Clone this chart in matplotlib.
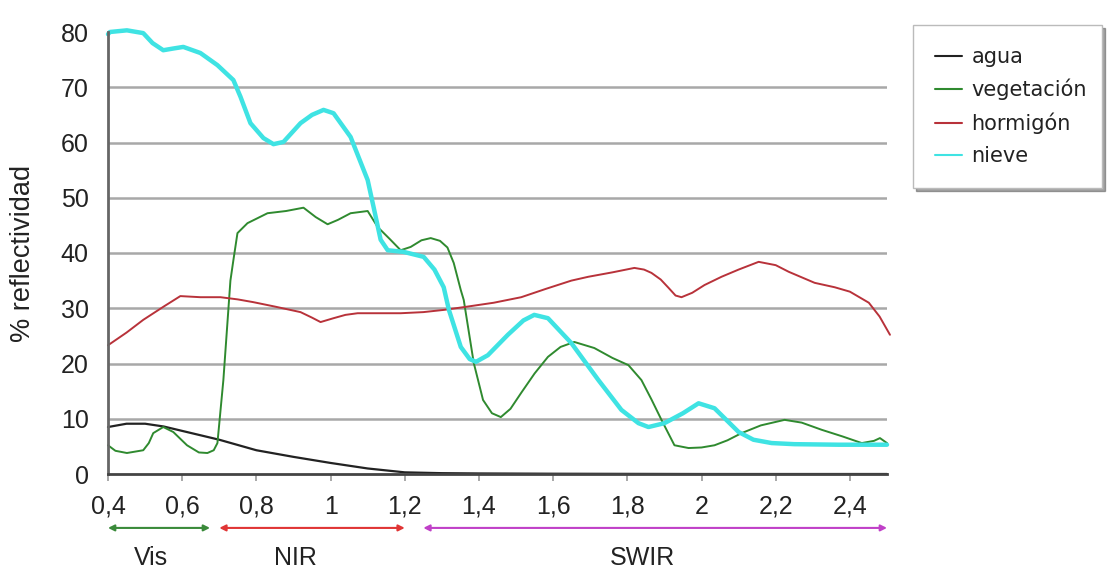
import matplotlib
matplotlib.use('Agg')
import matplotlib.pyplot as plt

plt.rcParams['font.family'] = ['Liberation Sans', 'DejaVu Sans']

# curves (wavelength in um, reflectance in %)
agua_x = [0.4, 0.45, 0.5, 0.55, 0.6, 0.7, 0.8, 0.9, 1.0, 1.1, 1.2, 1.3, 1.4, 1.6, 2.0, 2.5]
agua_y = [8.5, 9.1, 9.1, 8.6, 7.8, 6.2, 4.3, 3.1, 2.0, 1.0, 0.3, 0.15, 0.1, 0.05, 0.0, 0.0]

veg_x = [0.4, 0.42, 0.451, 0.495, 0.51, 0.522, 0.549, 0.576, 0.613, 0.645, 0.668, 0.685, 0.695,
         0.711, 0.73, 0.738, 0.749, 0.776, 0.83, 0.88, 0.927, 0.96, 0.992, 1.02, 1.054, 1.1,
         1.127, 1.16, 1.189, 1.216, 1.245, 1.27, 1.295, 1.315, 1.332, 1.351, 1.359, 1.386,
         1.411, 1.435, 1.459, 1.485, 1.514, 1.55, 1.586, 1.62, 1.657, 1.711, 1.76, 1.803,
         1.838, 1.865, 1.892, 1.927, 1.965, 2.0, 2.035, 2.07, 2.108, 2.16, 2.224, 2.27, 2.324,
         2.38, 2.432, 2.465, 2.481, 2.5]
veg_y = [5.2, 4.2, 3.8, 4.3, 5.6, 7.4, 8.5, 7.6, 5.2, 3.9, 3.8, 4.3, 5.6,
         17.0, 35.0, 38.7, 43.6, 45.4, 47.2, 47.6, 48.2, 46.5, 45.2, 46.0, 47.2, 47.6,
         44.7, 42.5, 40.5, 41.1, 42.3, 42.7, 42.2, 41.0, 38.2, 33.3, 31.5, 20.1,
         13.4, 11.0, 10.3, 11.8, 14.7, 18.2, 21.2, 23.0, 23.9, 22.8, 21.0, 19.7,
         17.0, 13.5, 9.8, 5.2, 4.7, 4.8, 5.2, 6.1, 7.4, 8.8, 9.8, 9.3, 8.0,
         6.8, 5.6, 6.0, 6.5, 5.6]

horm_x = [0.4, 0.45, 0.495, 0.55, 0.595, 0.649, 0.703, 0.75, 0.792, 0.85, 0.919, 0.95, 0.973,
          1.008, 1.04, 1.073, 1.13, 1.189, 1.25, 1.305, 1.359, 1.44, 1.514, 1.58, 1.649,
          1.695, 1.76, 1.819, 1.845, 1.865, 1.89, 1.911, 1.93, 1.946, 1.975, 2.008, 2.054,
          2.1, 2.154, 2.2, 2.235, 2.305, 2.359, 2.4, 2.451, 2.48, 2.508]
horm_y = [23.3, 25.6, 27.9, 30.3, 32.2, 32.0, 32.0, 31.6, 31.1, 30.3, 29.3, 28.3, 27.5,
          28.2, 28.8, 29.1, 29.1, 29.1, 29.3, 29.7, 30.2, 31.0, 32.0, 33.5, 35.0,
          35.7, 36.5, 37.3, 37.0, 36.4, 35.2, 33.7, 32.3, 32.0, 32.8, 34.2, 35.7,
          37.0, 38.4, 37.8, 36.6, 34.6, 33.8, 33.0, 31.0, 28.5, 25.2]

nieve_x = [0.4, 0.405, 0.451, 0.495, 0.52, 0.549, 0.575, 0.603, 0.649, 0.695, 0.738, 0.757,
           0.784, 0.819, 0.846, 0.873, 0.919, 0.95, 0.981, 1.008, 1.054, 1.1, 1.116, 1.135,
           1.154, 1.197, 1.251, 1.28, 1.305, 1.319, 1.351, 1.375, 1.392, 1.424, 1.478, 1.52,
           1.549, 1.586, 1.649, 1.722, 1.784, 1.83, 1.857, 1.9, 1.95, 1.992, 2.035, 2.1, 2.14,
           2.189, 2.25, 2.37, 2.5]
nieve_y = [79.6, 80.0, 80.3, 79.8, 78.0, 76.7, 77.0, 77.3, 76.2, 74.0, 71.3, 68.3,
           63.5, 60.8, 59.7, 60.1, 63.5, 65.0, 65.9, 65.3, 61.0, 53.2, 48.3, 42.4,
           40.5, 40.2, 39.3, 37.0, 33.8, 29.7, 23.0, 20.8, 20.3, 21.5, 25.2, 27.8,
           28.8, 28.2, 23.7, 17.0, 11.6, 9.2, 8.5, 9.2, 11.0, 12.8, 11.9, 7.6, 6.2,
           5.6, 5.4, 5.3, 5.3]

series = [
    ('agua', agua_x, agua_y, '#222222', 1.6),
    ('vegetación', veg_x, veg_y, '#2f8a2f', 1.4),
    ('hormigón', horm_x, horm_y, '#b8323a', 1.4),
    ('nieve', nieve_x, nieve_y, '#3fe3e3', 3.2),
]

x_ticks = [0.4, 0.6, 0.8, 1.0, 1.2, 1.4, 1.6, 1.8, 2.0, 2.2, 2.4]
x_tick_labels = ['0,4', '0,6', '0,8', '1', '1,2', '1,4', '1,6', '1,8', '2', '2,2', '2,4']
y_ticks = [0, 10, 20, 30, 40, 50, 60, 70, 80]

band_names = ['Vis', 'NIR', 'SWIR']
band_start = [0.4, 0.7, 1.25]
band_end = [0.675, 1.2, 2.5]
band_label_x = [0.515, 0.905, 1.84]
band_colors = ['#3a8a3a', '#e03535', '#c040c8']

fig = plt.figure(figsize=(11.07, 5.71), dpi=100)
ax = fig.add_axes([108/1107, 1 - 474/571, (887-108)/1107, (474-32)/571])

for name, xs, ys, c, lw in series:
    ax.plot(xs, ys, color=c, lw=lw, label=name, solid_capstyle='round', clip_on=False)

ax.set_xlim(0.4, 2.5)
ax.set_ylim(0, 80)
ax.set_xticks(x_ticks)
ax.set_xticklabels(x_tick_labels)
ax.set_yticks(y_ticks)
ax.tick_params(axis='x', labelsize=18, length=5, width=1.2, color='#999999', pad=10)
ax.tick_params(axis='y', labelsize=18, length=0, pad=14)
for lab in ax.get_xticklabels() + ax.get_yticklabels():
    lab.set_color('#222222')

for y in y_ticks[1:-1]:
    ax.axhline(y, color='#a8a8a8', lw=1.8, zorder=0)

for s in ['top', 'right']:
    ax.spines[s].set_visible(False)
ax.spines['left'].set_color('#666666')
ax.spines['left'].set_linewidth(2)
ax.spines['bottom'].set_color('#444444')
ax.spines['bottom'].set_linewidth(2)

ax.set_ylabel('% reflectividad', fontsize=19.5, color='#222222')
ax.yaxis.set_label_coords(-0.093, 0.5)

# band arrows under the axis
for name, x0, x1, lx, c in zip(band_names, band_start, band_end, band_label_x, band_colors):
    ax.annotate('', xy=(x1, -0.122), xytext=(x0, -0.122),
                xycoords=('data', 'axes fraction'), textcoords=('data', 'axes fraction'),
                arrowprops=dict(arrowstyle='<|-|>', color=c, lw=1.5,
                                mutation_scale=9, shrinkA=0, shrinkB=0),
                annotation_clip=False)
    ax.text(lx, -0.19, name, transform=ax.get_xaxis_transform(), ha='center', va='center',
            fontsize=18, color='#222222')

leg = fig.legend(loc='upper left', bbox_to_anchor=(913/1107, 0, 189/1107, 1 - 25/571),
                 mode='expand', prop={'family': 'DejaVu Sans', 'size': 15}, frameon=True,
                 fancybox=False, shadow=True, handlelength=1.3, handletextpad=0.45,
                 labelspacing=0.58, borderpad=1.05, borderaxespad=0)
leg.get_frame().set_edgecolor('#bbbbbb')
leg.get_frame().set_linewidth(1.0)
for h in leg.get_lines():
    h.set_linewidth(1.5)
for t in leg.get_texts():
    t.set_color('#222222')

fig.savefig('out.png', dpi=100)
